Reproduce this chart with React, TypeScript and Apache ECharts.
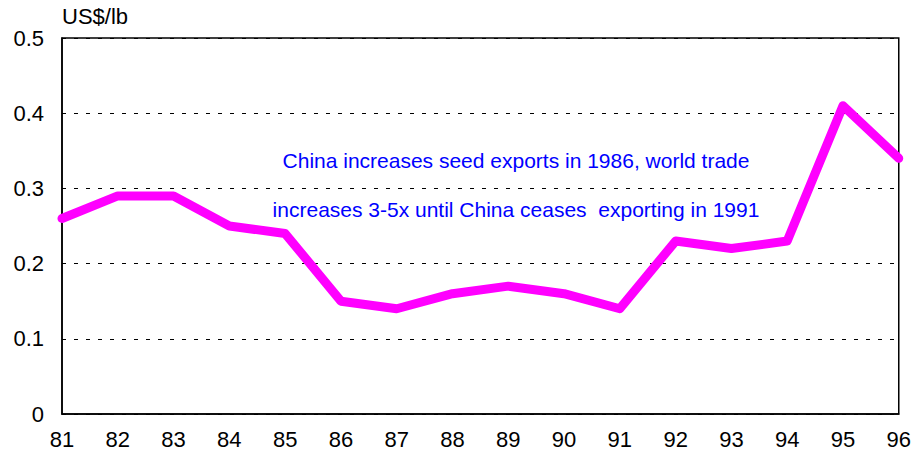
import React, { useEffect, useRef } from "react";
import * as echarts from "echarts";

const years = ["81", "82", "83", "84", "85", "86", "87", "88", "89", "90", "91", "92", "93", "94", "95", "96"];
const prices = [0.26, 0.29, 0.29, 0.25, 0.24, 0.15, 0.14, 0.16, 0.17, 0.16, 0.14, 0.23, 0.22, 0.23, 0.41, 0.34];
const unitLabel = "US$/lb";
const noteLines = [
  "China increases seed exports in 1986, world trade",
  "increases 3-5x until China ceases  exporting in 1991",
];

export default function App() {
  const ref = useRef<HTMLDivElement>(null);
  useEffect(() => {
    const chart = echarts.init(ref.current!, null, { renderer: "svg" });
    const font = "Liberation Sans, Arial, sans-serif";
    chart.setOption({
      animation: false,
      backgroundColor: "#ffffff",
      grid: { left: 62, right: 14, top: 38, bottom: 36, show: true, borderColor: "#000", borderWidth: 1.5 },
      xAxis: {
        type: "category",
        data: years,
        boundaryGap: false,
        axisLine: { lineStyle: { color: "#000", width: 1.5 } },
        axisTick: { show: false },
        axisLabel: { color: "#000", fontSize: 22, fontFamily: font, margin: 14 },
        splitLine: { show: false },
      },
      yAxis: {
        type: "value",
        min: 0,
        max: 0.5,
        interval: 0.1,
        axisLine: { show: true, lineStyle: { color: "#000", width: 1.5 } },
        axisTick: { show: false },
        axisLabel: { color: "#000", fontSize: 22, fontFamily: font, margin: 18 },
        splitLine: { show: true, lineStyle: { color: "#000", type: [4, 8], width: 1 } },
      },
      series: [
        {
          type: "line",
          data: prices,
          symbol: "none",
          lineStyle: { color: "#ff00ff", width: 9, join: "round", cap: "round" },
          itemStyle: { color: "#ff00ff" },
        },
      ],
      graphic: [
        {
          type: "text",
          left: 62,
          top: 5,
          style: { text: unitLabel, fill: "#000", font: `22px ${font}` },
        },
        {
          type: "text",
          x: 516,
          y: 160,
          style: { text: noteLines[0], fill: "#0000ff", font: `21px ${font}`, align: "center", verticalAlign: "middle" },
        },
        {
          type: "text",
          x: 516,
          y: 209,
          style: { text: noteLines[1], fill: "#0000ff", font: `21px ${font}`, align: "center", verticalAlign: "middle" },
        },
      ],
    });
    return () => chart.dispose();
  }, []);
  return <div ref={ref} style={{ position: "fixed", left: 0, top: 0, width: 914, height: 450 }} />;
}
